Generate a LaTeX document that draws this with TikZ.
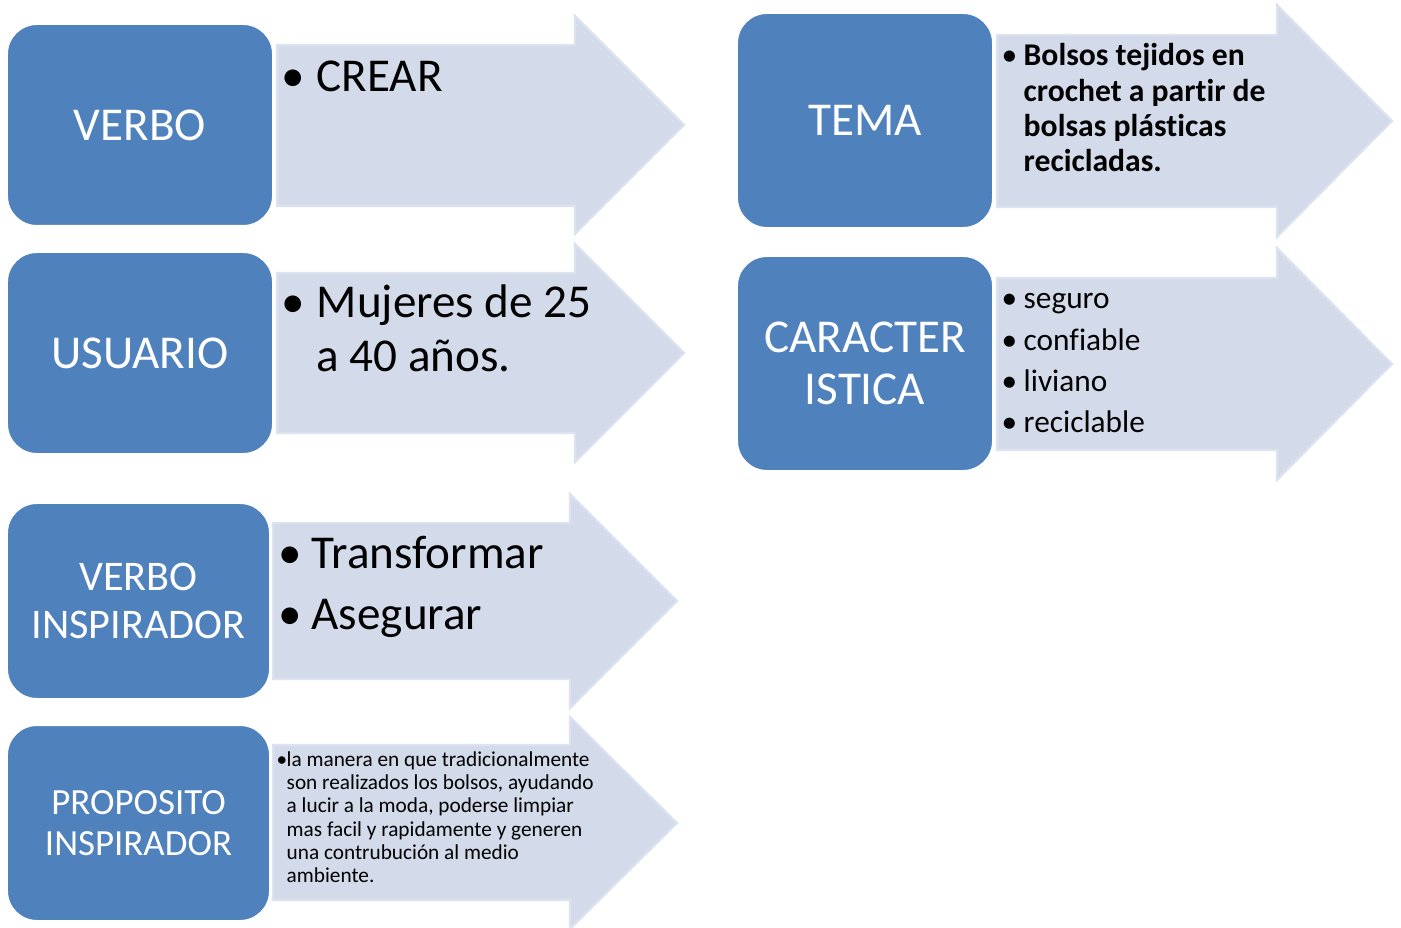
\documentclass[tikz,border=0pt]{standalone}
\usepackage{fontspec}
\setmainfont{Carlito}[Ligatures=NoCommon]
\definecolor{boxblue}{HTML}{4F81BD}
\definecolor{arrowfill}{HTML}{D3DBEA}
\definecolor{arrowedge}{HTML}{DCE2EE}
\newcommand\bigtext{\fontsize{13.4}{15.1}\selectfont}
\newcommand\midtext{\fontsize{12}{13.4}\selectfont}
\newcommand\smalltext{\fontsize{10.5}{11.7}\selectfont}
\newcommand\listtext{\fontsize{8.9}{11.7}\selectfont}
\newcommand\boldtext{\fontsize{9}{10}\selectfont\bfseries}
\newcommand\tinytext{\fontsize{6.05}{6.65}\selectfont}
\newcommand\bul[1]{\makebox[#1][l]{\mdseries •}}
\tikzset{
  keybox/.style={fill=boxblue, draw=white, line width=0.6pt, rounded corners=0.3cm,
    text=white, align=flush center, inner sep=0pt},
  arrowshape/.style={fill=arrowfill, draw=arrowedge, line width=0.6pt},
  itemtext/.style={anchor=base west, inner sep=0pt, text width=4.5cm, align=flush left}
}
\begin{document}
\begin{tikzpicture}[x=0.01cm,y=-0.01cm]
\useasboundingbox (0,0) rectangle (1401,928);
% arrows
\draw[arrowshape] (277,45) -- (575,45) -- (575,16) -- (684,125) -- (575,234) -- (575,206) -- (277,206) -- cycle;
\draw[arrowshape] (277,273) -- (575,273) -- (575,244) -- (684,353) -- (575,462) -- (575,433) -- (277,433) -- cycle;
\draw[arrowshape] (273,523) -- (570,523) -- (570,494) -- (677,601) -- (570,708) -- (570,679) -- (273,679) -- cycle;
\draw[arrowshape] (273,745) -- (570,745) -- (570,717) -- (677,823) -- (570,929) -- (570,900) -- (273,900) -- cycle;
\draw[arrowshape] (997,35) -- (1277,35) -- (1277,5) -- (1392,121) -- (1277,237) -- (1277,207) -- (997,207) -- cycle;
\draw[arrowshape] (997,278) -- (1277,278) -- (1277,248) -- (1392,364) -- (1277,480) -- (1277,450) -- (997,450) -- cycle;
% boxes
\node[keybox, minimum width=2.66cm, minimum height=2.02cm, font=\bigtext] (verbo) at (140,125) {VERBO};
\node[keybox, minimum width=2.66cm, minimum height=2.02cm, font=\bigtext] (usuario) at (140,353) {USUARIO};
\node[keybox, minimum width=2.63cm, minimum height=1.96cm, font=\midtext] (inspira) at (138.5,601) {VERBO\\INSPIRADOR};
\node[keybox, minimum width=2.63cm, minimum height=1.96cm, font=\smalltext] (proposito) at (138.5,823) {PROPOSITO\\INSPIRADOR};
\node[keybox, minimum width=2.56cm, minimum height=2.15cm, font=\bigtext] (tema) at (865,120.5) {TEMA};
\node[keybox, minimum width=2.56cm, minimum height=2.15cm, font={\fontsize{13.4}{14.8}\selectfont}] (caract) at (865,363.5) {CARACTER\\ISTICA};
% texts
\node[itemtext, font=\bigtext] (crear) at (281,92) {\bul{0.35cm}CREAR};
\node[itemtext, font=\bigtext] (mujeres) at (281,318) {\bul{0.35cm}Mujeres de 25\\
  \hspace*{0.35cm}a 40 años.};
\node[itemtext, font=\bigtext] (verbos) at (278,568) {\bul{0.33cm}Transformar\\[2.5pt]
  \bul{0.33cm}Asegurar};
\node[itemtext, font=\tinytext] (manera) at (276,766) {\bul{0.1cm}la manera en que tradicionalmente\\
  \hspace*{0.1cm}son realizados los bolsos, ayudando\\\hspace*{0.1cm}a lucir a la moda, poderse limpiar\\
  \hspace*{0.1cm}mas facil y rapidamente y generen\\\hspace*{0.1cm}una contrubución al medio\\
  \hspace*{0.1cm}ambiente.};
\node[itemtext, font=\boldtext] (bolsos) at (1001,66) {\bul{0.22cm}Bolsos tejidos en\\
  \hspace*{0.22cm}crochet a partir de\\\hspace*{0.22cm}bolsas plásticas\\\hspace*{0.22cm}recicladas.};
\node[itemtext, font=\listtext] (seguro) at (1001,309) {\bul{0.22cm}seguro\\
  \bul{0.22cm}confiable\\\bul{0.22cm}liviano\\\bul{0.22cm}reciclable};
\end{tikzpicture}
\end{document}
